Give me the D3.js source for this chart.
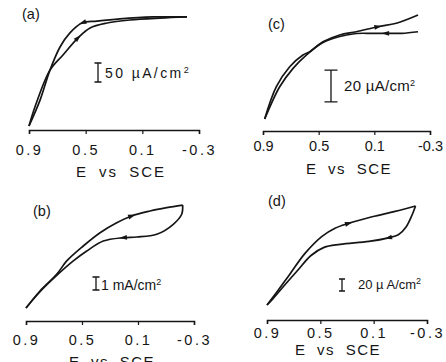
<!DOCTYPE html>
<html>
<head>
<meta charset="utf-8">
<script src="https://cdn.jsdelivr.net/npm/d3@7"></script>
<style>
  body { margin: 0; background: #fff; }
  svg { display: block; font-family: "Liberation Sans", Arial, sans-serif; }
</style>
</head>
<body>
<svg id="fig" width="446" height="362"></svg>
<script>
// potential axis (V vs SCE)
var tickE = [0.9, 0.5, 0.1, -0.3];
var tickLabels = ["0.9", "0.5", "0.1", "-0.3"];

// (a) current in uA/cm2, forward scan (0.9 -> -0.2) and return
var aFwdE = [0.9, 0.858, 0.752, 0.660, 0.554, 0.469, 0.349, 0.187, -0.025, -0.215];
var aFwdI = [0, 50, 147, 187, 232, 258, 271, 279, 284, 287];
var aRevE = [-0.215, 0.025, 0.258, 0.420, 0.526, 0.611, 0.681, 0.752, 0.822, 0.9];
var aRevI = [287, 287, 282, 276, 271, 245, 208, 147, 68, 0];

// (b) current in mA/cm2
var bFwdE = [0.9, 0.8, 0.681, 0.609, 0.491, 0.371, 0.252, 0.145, 0.014, -0.105, -0.219];
var bFwdI = [0, 1.31, 2.59, 3.62, 4.77, 5.79, 6.56, 7.08, 7.46, 7.72, 7.92];
var bRevE = [-0.219, -0.212, -0.152, -0.034, 0.109, 0.205, 0.348, 0.466, 0.562, 0.681, 0.8, 0.9];
var bRevI = [7.92, 7.21, 6.44, 5.67, 5.46, 5.41, 5.15, 4.38, 3.62, 2.5, 1.25, 0];

// (c) current in uA/cm2
var cFwdE = [0.888, 0.804, 0.708, 0.613, 0.564, 0.469, 0.349, 0.230, 0.074, -0.058, -0.214];
var cFwdI = [0, 20.4, 33.0, 40.4, 42.5, 48.8, 53.1, 55.1, 58.3, 60.5, 65.7];
var cRevE = [-0.214, -0.097, 0.023, 0.119, 0.230, 0.349, 0.469, 0.589, 0.684, 0.780, 0.888];
var cRevI = [55.1, 54.1, 54.1, 54.1, 54.0, 52.1, 48.3, 40.4, 32.0, 20.4, 0];

// (d) current in uA/cm2
var dFwdE = [0.9, 0.815, 0.730, 0.615, 0.490, 0.390, 0.290, 0.112, -0.060, -0.214];
var dFwdI = [0, 25, 51, 86, 114, 128, 136, 147, 156, 165];
var dRevE = [-0.214, -0.188, -0.143, -0.085, -0.011, 0.135, 0.352, 0.472, 0.570, 0.671, 0.772, 0.865, 0.9];
var dRevI = [165, 150, 130, 117, 112, 106, 101, 96, 82.5, 57.5, 32, 8, 0];

var panelIds = ["a", "b", "c", "d"];
var barValues = [50, 1, 20, 20];
var barTexts = ["50 \u00b5A/cm", "1 mA/cm", "20 \u00b5A/cm", "20 \u00b5 A/cm"];
var arrowFwdE = [0.554, 0.145, 0.074, 0.29];
var arrowRevE = [0.52, 0.205, 0.02, -0.01];

var curves = {
  a: [[aFwdE, aFwdI], [aRevE, aRevI]],
  b: [[bFwdE, bFwdI], [bRevE, bRevI]],
  c: [[cFwdE, cFwdI], [cRevE, cRevI]],
  d: [[dFwdE, dFwdI], [dRevE, dRevI]]
};

// page layout of each panel
var layout = {
  a: {x0: 29, x1: 199, yBase: 126, k: 0.38, imax: 300, axisY: 130, pad: 11, ls: 2.5,
      titleX: 121, titleY: 177, titleLs: 2, labX: 22, labY: 19, barX: 98, barCy: 72.5, cap: 7,
      txtX: 105, txtY: 78, txtLs: 2.4, txtSize: 14},
  b: {x0: 26, x1: 194, yBase: 308, k: 13, imax: 8.2, axisY: 321, pad: 10, ls: 2.5,
      titleX: 112, titleY: 367, titleLs: 1.5, labX: 33, labY: 216, barX: 96, barCy: 283.5, cap: 7,
      txtX: 101, txtY: 290, txtLs: 0, txtSize: 14},
  c: {x0: 263, x1: 430, yBase: 119, k: 1.583, imax: 70, axisY: 131, pad: 6, ls: 0,
      titleX: 349, titleY: 174, titleLs: 1.5, labX: 268, labY: 29, barX: 331, barCy: 86, cap: 13,
      txtX: 344, txtY: 91, txtLs: 0.3, txtSize: 15},
  d: {x0: 267, x1: 427, yBase: 305, k: 0.6, imax: 170, axisY: 320, pad: 4, ls: 2.5,
      titleX: 338, titleY: 355, titleLs: 1.5, labX: 268, labY: 206, barX: 342, barCy: 285, cap: 6,
      txtX: 358, txtY: 289, txtLs: 0, txtSize: 13}
};

var svg = d3.select("#fig");
svg.append("rect").attr("width", 446).attr("height", 362).attr("fill", "#fff");

var ink = "#151515";

panelIds.forEach(function(id, i) {
  var L = layout[id];
  var g = svg.append("g");

  var x = d3.scaleLinear().domain([0.9, -0.3]).range([L.x0, L.x1]);
  var y = d3.scaleLinear().domain([0, L.imax]).range([L.yBase, L.yBase - L.imax * L.k]);

  // axis
  var axis = d3.axisBottom(x)
    .tickValues(tickE)
    .tickFormat(function(d, j) { return tickLabels[j]; })
    .tickSize(4)
    .tickPadding(L.pad);
  var ax = g.append("g").attr("transform", "translate(0," + L.axisY + ")").call(axis);
  ax.select(".domain").attr("stroke", ink).attr("stroke-width", 1.5);
  ax.selectAll(".tick line").attr("stroke", ink).attr("stroke-width", 1.2);
  ax.selectAll(".tick text")
    .attr("fill", ink)
    .style("font-size", "14.5px")
    .style("font-family", "'Liberation Sans', Arial, sans-serif")
    .style("letter-spacing", L.ls + "px");

  g.append("text")
    .attr("x", L.titleX).attr("y", L.titleY)
    .attr("text-anchor", "middle")
    .attr("fill", ink)
    .style("font-size", "15px")
    .style("letter-spacing", L.titleLs + "px")
    .style("word-spacing", "5px")
    .text("E vs SCE");

  g.append("text")
    .attr("x", L.labX).attr("y", L.labY)
    .attr("fill", ink)
    .style("font-size", "14.5px")
    .text("(" + id + ")");

  // curves
  var line = d3.line()
    .x(function(d) { return x(d[0]); })
    .y(function(d) { return y(d[1]); })
    .curve(d3.curveCatmullRom.alpha(0.5));

  var paths = curves[id].map(function(br) {
    var pts = br[0].map(function(e, j) { return [e, br[1][j]]; });
    return g.append("path")
      .datum(pts)
      .attr("d", line)
      .attr("fill", "none")
      .attr("stroke", ink)
      .attr("stroke-width", 1.7)
      .attr("stroke-linejoin", "round");
  });

  addArrow(g, paths[0], x(arrowFwdE[i]));
  addArrow(g, paths[1], x(arrowRevE[i]));

  // scale bar
  var h = y(0) - y(barValues[i]);
  var top = L.barCy - h / 2, bot = L.barCy + h / 2;
  g.append("path")
    .attr("d", "M" + (L.barX - L.cap / 2) + "," + top + "H" + (L.barX + L.cap / 2) +
               "M" + L.barX + "," + top + "V" + bot +
               "M" + (L.barX - L.cap / 2) + "," + bot + "H" + (L.barX + L.cap / 2))
    .attr("stroke", ink).attr("stroke-width", 1.3).attr("fill", "none");

  var t = g.append("text")
    .attr("x", L.txtX).attr("y", L.txtY)
    .attr("fill", ink)
    .style("font-size", L.txtSize + "px")
    .style("letter-spacing", L.txtLs + "px");
  t.append("tspan").text(barTexts[i]);
  t.append("tspan").attr("dy", -5).style("font-size", "9px").text("2");
});

function addArrow(g, path, targetX) {
  var node = path.node(), len = node.getTotalLength(), best = 0, bd = 1e9;
  for (var s = 0; s <= len; s += 0.5) {
    var p = node.getPointAtLength(s);
    var dd = Math.abs(p.x - targetX);
    if (dd < bd) { bd = dd; best = s; }
  }
  var p0 = node.getPointAtLength(Math.max(0, best - 2));
  var p1 = node.getPointAtLength(Math.min(len, best + 2));
  var ang = Math.atan2(p1.y - p0.y, p1.x - p0.x) * 180 / Math.PI;
  var c = node.getPointAtLength(best);
  g.append("path")
    .attr("d", "M4,0L-3.5,-2.4L-3.5,2.4Z")
    .attr("transform", "translate(" + c.x + "," + c.y + ") rotate(" + ang + ")")
    .attr("fill", ink);
}
</script>
</body>
</html>
